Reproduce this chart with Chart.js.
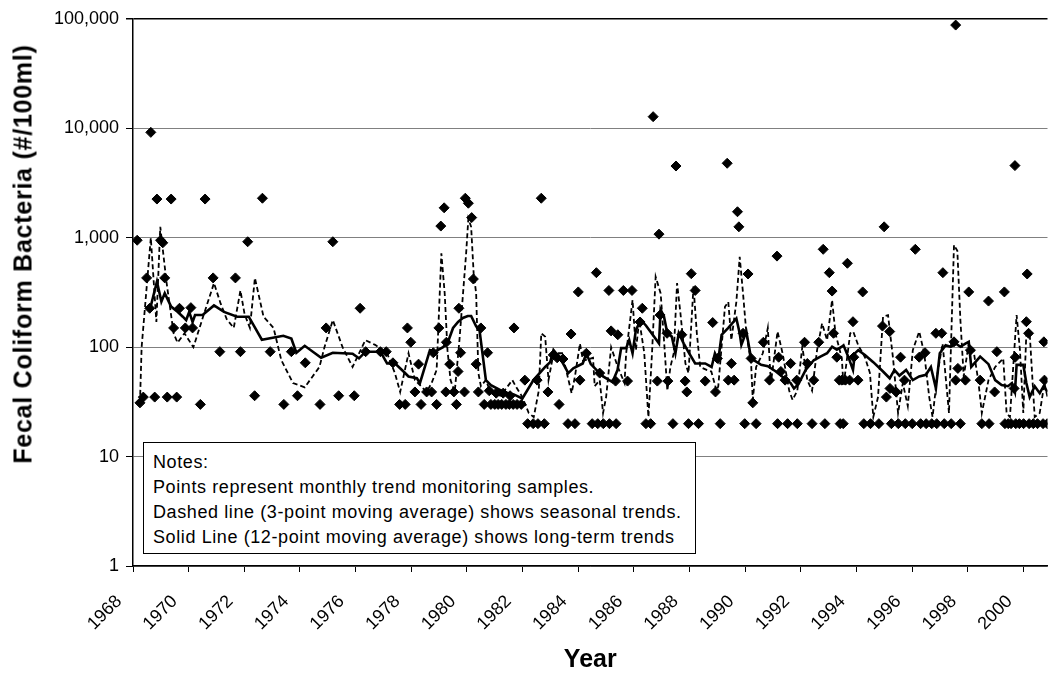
<!DOCTYPE html>
<html>
<head>
<meta charset="utf-8">
<title>Fecal Coliform Bacteria</title>
<script src="https://cdn.jsdelivr.net/npm/chart.js@4.4.1/dist/chart.umd.min.js"></script>
<style>
  body { margin: 0; background: #fff; }
  #wrap { position: relative; width: 1058px; height: 675px; overflow: hidden; background: #fff; }
  #chart { position: absolute; left: 0; top: 0; }
  #ytitle {
    position: absolute; left: 23px; top: 254px;
    transform: translate(-50%, -50%) rotate(-90deg);
    font: bold 25px "Liberation Sans", Arial, sans-serif; letter-spacing: 0.75px;
    white-space: nowrap; color: #000;
  }
  #notes {
    position: absolute; left: 143px; top: 442px; width: 553px; height: 112px;
    border: 1.5px solid #000; background: #fff;
    font: 18px "Liberation Sans", Arial, sans-serif; letter-spacing: 0.6px; line-height: 25px; color: #000;
    padding: 7px 0 0 9px; box-sizing: border-box; white-space: nowrap;
  }
</style>
</head>
<body>
<div id="wrap">
  <canvas id="chart" width="1058" height="675"></canvas>
  <div id="ytitle">Fecal Coliform Bacteria (#/100ml)</div>
  <div id="notes">
    Notes:<br>
    Points represent monthly trend monitoring samples.<br>
    Dashed line (3-point moving average) shows seasonal trends.<br>
    Solid Line (12-point moving average) shows long-term trends
  </div>
</div>
<script>
// Axis ticks
const yearTicks = [1968,1970,1972,1974,1976,1978,1980,1982,1984,1986,1988,1990,1992,1994,1996,1998,2000];
const valueTicks = [1,10,100,1000,10000,100000];

// Monthly samples (year, #/100ml)
const sampleYears = [
  1968.15,1968.25,1968.37,1968.49,1968.60,1968.64,1968.78,1968.86,1968.99,1969.07,1969.14,1969.23,1969.37,1969.46,1969.57,1969.67,1969.88,
  1970.08,1970.14,1970.42,1970.59,1970.88,1971.12,1971.68,1971.86,1972.12,1972.37,1972.65,1972.93,1973.42,1973.69,1973.91,
  1974.19,1974.72,1974.94,1975.18,1975.39,1975.95,1976.16,1976.36,1976.89,1977.10,1977.34,1977.58,1977.78,1977.86,1977.98,
  1978.13,1978.26,1978.35,1978.55,1978.73,1978.79,1978.91,1978.99,1979.06,1979.18,1979.24,1979.26,1979.38,1979.53,1979.62,1979.68,1979.71,1979.77,1979.91,1979.94,
  1980.05,1980.17,1980.23,1980.33,1980.41,1980.50,1980.62,1980.74,1980.80,1980.86,1981.00,1981.05,1981.12,1981.25,1981.30,1981.40,1981.52,1981.55,1981.66,1981.69,1981.80,1981.95,
  1982.08,1982.18,1982.38,1982.52,1982.55,1982.67,1982.78,1982.91,1983.10,1983.24,1983.31,1983.45,1983.63,1983.74,1983.88,
  1984.00,1984.06,1984.29,1984.50,1984.65,1984.70,1984.77,1984.90,1985.10,1985.12,1985.18,1985.34,1985.36,1985.42,1985.62,1985.77,1985.93,
  1986.22,1986.30,1986.43,1986.60,1986.69,1986.84,1986.90,1986.94,1987.19,1987.22,1987.40,1987.51,1987.72,1987.84,1987.90,1987.96,
  1988.06,1988.20,1988.32,1988.56,1988.83,1988.93,1989.00,1989.10,1989.35,1989.39,1989.50,1989.60,1989.72,1989.77,1989.92,1989.98,
  1990.10,1990.21,1990.27,1990.39,1990.65,1990.87,1991.14,1991.16,1991.20,1991.28,1991.43,1991.52,1991.63,1991.85,1991.87,
  1992.13,1992.23,1992.40,1992.46,1992.64,1992.80,1992.86,1993.02,1993.12,1993.17,1993.29,1993.38,1993.41,1993.47,1993.52,1993.60,1993.67,1993.75,1993.87,1993.90,
  1994.05,1994.22,1994.26,1994.50,1994.80,1994.93,1994.99,1995.07,1995.19,1995.20,1995.25,1995.42,1995.50,1995.58,1995.72,1995.75,
  1996.00,1996.11,1996.25,1996.30,1996.46,1996.50,1996.70,1996.85,1996.88,1997.06,1997.10,1997.15,1997.40,1997.50,1997.56,1997.56,1997.64,1997.73,1997.91,
  1998.03,1998.09,1998.44,1998.50,1998.74,1998.76,1998.96,1999.04,1999.31,1999.33,1999.45,1999.55,1999.66,1999.69,1999.70,1999.72,1999.85,
  2000.00,2000.10,2000.13,2000.18,2000.20,2000.35,2000.50,2000.70,2000.73,2000.75,2000.85
];
const sampleValues = [
  950,31,35,430,227,9200,35,2260,950,900,430,35,2260,150,35,227,150,
  230,150,30,2260,430,91,430,91,920,36,2300,91,30,91,36,
  72,30,150,920,36,36,227,91,91,91,72,30,30,150,111,
  39,70,30,39,39,89,30,150,1280,1880,39,111,70,39,30,60,227,89,39,2300,
  2070,1530,420,70,39,150,30,89,40,30,30,38,30,30,38,30,30,36,30,150,30,30,
  50,20,20,50,20,2300,20,39,85,80,30,78,20,132,20,
  320,50,88,20,480,20,58,20,330,20,141,49,20,130,330,49,330,
  170,227,20,20,12800,49,1080,197,134,49,20,4530,130,49,39,20,
  470,330,20,49,168,39,79,20,4800,50,71,50,1730,1260,134,20,
  467,79,31,20,111,50,680,20,81,60,50,20,71,50,20,
  111,71,20,50,111,785,20,480,326,134,81,50,20,50,20,50,585,50,171,81,
  50,320,20,20,20,156,1260,35,139,42,20,39,20,81,50,20,
  20,785,81,20,89,20,20,134,20,134,480,20,20,112,88000,50,64,20,50,
  320,94,50,20,264,20,39,91,320,20,20,20,42,4570,81,20,20,
  20,171,467,134,20,20,20,20,112,50,20
];

// Dashed line (3-point moving average)
const seasonalYears = [
  1968.25,1968.31,1968.64,1968.84,1968.98,1969.20,1969.46,1969.60,1969.85,1970.17,1970.56,1970.91,1971.15,1971.37,1971.62,1971.86,
  1972.01,1972.20,1972.38,1972.69,1973.05,1973.33,1973.75,1974.17,1974.70,1974.88,1975.18,1975.53,1975.89,1976.35,1976.70,
  1977.13,1977.41,1977.60,1977.90,1978.13,1978.55,1978.73,1978.91,1979.08,1979.20,1979.30,1979.41,1979.56,1979.73,1979.85,1979.97,
  1980.05,1980.15,1980.24,1980.33,1980.41,1980.50,1980.68,1980.86,1981.21,1981.63,1981.75,1981.99,1982.22,1982.40,1982.58,1982.67,
  1982.81,1982.93,1983.11,1983.42,1983.76,1983.88,1984.06,1984.17,1984.53,1984.59,1984.77,1984.89,1985.00,1985.18,1985.42,1985.66,
  1985.72,1985.95,1986.07,1986.19,1986.37,1986.52,1986.65,1986.78,1986.96,1987.08,1987.20,1987.31,1987.43,1987.55,1987.67,1987.85,
  1987.96,1988.14,1988.26,1988.38,1988.61,1988.78,1988.97,1989.03,1989.27,1989.39,1989.50,1989.68,1989.80,1989.92,1990.04,1990.21,
  1990.27,1990.39,1990.63,1990.81,1990.92,1991.16,1991.34,1991.58,1991.70,1991.87,1992.05,1992.23,1992.40,1992.58,1992.76,1992.94,
  1993.12,1993.24,1993.47,1993.53,1993.77,1993.88,1994.06,1994.30,1994.48,1994.60,1994.77,1994.95,1995.13,1995.31,1995.49,1995.66,
  1995.84,1996.02,1996.25,1996.43,1996.61,1996.73,1996.91,1997.09,1997.32,1997.50,1997.62,1997.73,1997.85,1998.03,1998.20,1998.37,
  1998.50,1998.74,1998.98,1999.27,1999.39,1999.51,1999.75,1999.87,1999.99,2000.10,2000.22,2000.40,2000.58,2000.75,2000.86
];
const seasonalValues = [
  31,100,1000,170,1260,400,134,110,134,100,205,385,250,180,150,330,
  200,150,430,190,150,76,47,43,66,100,177,100,66,116,105,
  88,58,39,88,50,39,47,62,720,310,94,50,39,116,290,720,
  1500,1260,475,310,58,44,50,38,36,50,44,35,25,23,40,134,
  125,50,88,88,38,54,108,75,80,44,50,25,35,100,66,47,
  88,270,94,177,89,23,89,440,310,116,40,66,88,385,205,71,
  58,360,134,66,62,60,40,44,234,260,116,260,670,310,134,71,
  33,66,88,150,47,139,88,40,33,40,101,50,40,94,165,116,
  270,134,79,44,134,139,104,81,58,23,35,190,196,79,25,47,
  29,94,139,88,35,23,58,108,25,860,760,177,54,108,94,50,
  25,50,66,79,25,23,197,94,25,134,134,23,25,47,35
];

// Solid line (12-point moving average)
const longTermYears = [
  1968.62,1968.86,1969.02,1969.14,1969.37,1969.61,1969.79,1969.91,1970.02,1970.14,1970.23,1970.50,1970.91,1971.27,1971.74,1972.16,
  1972.63,1973.40,1973.69,1973.87,1974.17,1974.76,1975.18,1975.89,1976.12,1976.36,1976.89,1977.13,1977.42,1977.72,1977.90,1978.20,
  1978.31,1978.67,1978.85,1979.14,1979.32,1979.50,1979.68,1979.85,1980.03,1980.15,1980.33,1980.44,1980.68,1980.86,1981.32,1981.68,
  1981.99,1982.39,1982.81,1982.99,1983.11,1983.35,1983.52,1983.64,1983.82,1984.16,1984.29,1984.45,1984.65,1984.89,1985.23,1985.41,
  1985.54,1985.72,1985.83,1985.95,1986.07,1986.25,1986.43,1986.72,1986.90,1986.96,1987.08,1987.20,1987.36,1987.49,1987.61,1987.79,
  1987.96,1988.20,1988.56,1988.79,1988.91,1989.03,1989.15,1989.39,1989.68,1989.80,1989.86,1990.04,1990.21,1990.57,1990.81,1991.10,
  1991.40,1991.63,1991.75,1991.91,1992.17,1992.46,1992.70,1992.94,1993.12,1993.29,1993.47,1993.53,1993.70,1993.87,1993.94,1994.06,
  1994.30,1994.60,1994.95,1995.19,1995.36,1995.54,1995.78,1996.02,1996.25,1996.49,1996.67,1996.85,1996.99,1997.20,1997.38,1997.56,
  1997.73,1997.91,1998.03,1998.12,1998.44,1998.74,1998.98,1999.21,1999.44,1999.58,1999.69,1999.75,1999.99,2000.10,2000.22,2000.40,
  2000.58,2000.72,2000.86
];
const longTermValues = [
  227,398,261,311,235,210,190,177,210,170,197,197,241,210,190,190,
  117,127,120,89,103,80,89,87,79,91,91,71,71,60,54,52,
  47,94,91,100,112,150,170,185,193,193,155,150,50,45,39,37,
  34,50,66,73,94,79,66,58,64,71,88,70,62,54,48,62,
  98,98,116,88,144,177,158,125,108,220,190,134,125,88,134,108,
  90,71,71,66,88,76,130,150,183,134,105,139,79,69,67,60,
  52,47,42,46,62,76,82,88,101,95,101,104,82,62,88,94,
  85,73,60,52,62,55,62,50,54,56,66,42,88,104,101,108,
  101,108,112,66,82,70,50,45,44,47,39,69,69,47,35,44,
  38,44,39
];

const FONT = '"Liberation Sans", Arial, sans-serif';
const toXY = (xs, ys) => xs.map((x, i) => ({x: x, y: ys[i]}));

new Chart(document.getElementById('chart'), {
  type: 'scatter',
  data: {
    datasets: [
      {
        label: 'Samples',
        data: toXY(sampleYears, sampleValues),
        pointStyle: 'rectRot',
        pointRadius: 5,
        pointBackgroundColor: '#000',
        pointBorderColor: '#000',
        pointBorderWidth: 1,
        showLine: false,
        order: 0
      },
      {
        label: '3-point moving average',
        data: toXY(seasonalYears, seasonalValues),
        showLine: true,
        borderColor: '#000',
        borderWidth: 1.8,
        borderDash: [5, 3],
        pointRadius: 0,
        tension: 0,
        order: 2
      },
      {
        label: '12-point moving average',
        data: toXY(longTermYears, longTermValues),
        showLine: true,
        borderColor: '#000',
        borderWidth: 2.6,
        pointRadius: 0,
        tension: 0,
        order: 1
      }
    ]
  },
  options: {
    responsive: false,
    animation: false,
    devicePixelRatio: 1,
    layout: { padding: { top: 19, right: 0, bottom: 0, left: 0 } },
    plugins: { legend: { display: false }, tooltip: { enabled: false } },
    scales: {
      x: {
        type: 'linear',
        min: 1968,
        max: 2000.86,
        afterBuildTicks: s => { s.ticks = yearTicks.map(v => ({value: v})); },
        afterFit: s => { s.height = 109; },
        ticks: {
          autoSkip: false, minRotation: 45, maxRotation: 45, padding: 19, labelOffset: -14,
          color: '#000', font: { family: FONT, size: 18 },
          callback: v => String(v)
        },
        grid: { drawOnChartArea: false, drawTicks: true, tickLength: 6, tickColor: '#000' },
        border: { color: '#000', width: 1.5 },
        title: { display: true, text: 'Year', color: '#000', padding: { top: 0, bottom: 0 },
                 font: { family: FONT, size: 25, weight: 'bold' } }
      },
      y: {
        type: 'logarithmic',
        min: 1,
        max: 100000,
        afterBuildTicks: s => { s.ticks = valueTicks.map(v => ({value: v})); },
        afterFit: s => { s.width = 133; },
        ticks: {
          padding: 7, color: '#000', font: { family: FONT, size: 18 },
          callback: v => Number(v).toLocaleString('en-US')
        },
        grid: {
          color: c => (c.tick && c.tick.value === 100000) ? '#000' : '#808080',
          lineWidth: c => (c.tick && c.tick.value === 100000) ? 1.5 : 1,
          drawTicks: true, tickLength: 7, tickColor: '#000'
        },
        border: { color: '#000', width: 1.5 }
      }
    }
  }
});
</script>
</body>
</html>
